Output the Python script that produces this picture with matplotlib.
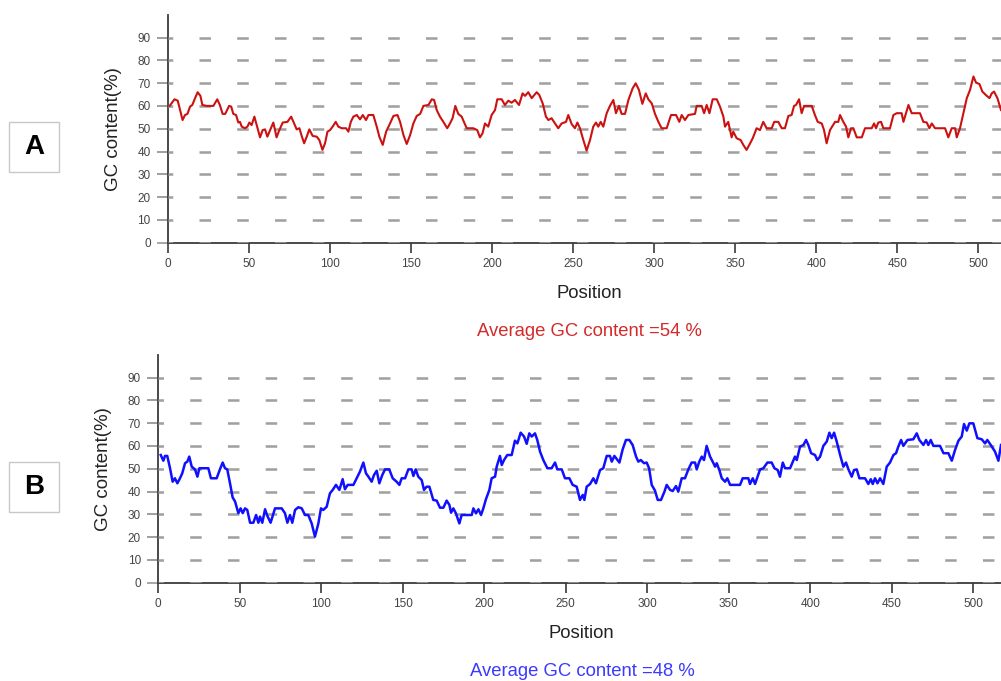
import matplotlib
matplotlib.use("Agg")
import matplotlib.pyplot as plt
from matplotlib.patches import Rectangle

plt.rcParams['font.family'] = ['Liberation Sans', 'DejaVu Sans']
plt.rcParams['lines.scale_dashes'] = False

# ---------------- data ----------------
pos_a = [1, 4, 6, 9, 10.5, 12, 13.6, 15, 16.7, 18.3, 20, 21.2, 24, 28, 30.4, 32, 33.7, 35.3, 37.7, 39,
         40.3, 42, 43.4, 44.4, 45.5, 47.5, 49, 50.2, 51.6, 53.3, 54.7, 56.8, 58.4, 59.9, 61.3, 63, 65, 67,
         68.7, 70.8, 73.7, 76, 77.4, 79.4, 81.1, 82.5, 84, 85.6, 87.2, 89.3, 91.8, 93.4, 95.3, 96.9, 98.4,
         100, 101.6, 103.5, 105.1, 107.2, 109.9, 111.3, 112.8, 114.4, 116.5, 118.5, 120.2, 122.2, 123.7,
         126.7, 128.8, 130.4, 132.5, 134.6, 137, 139.1, 141.6, 143.2, 145.3, 147.3, 149.4, 151.4, 153.5,
         155.6, 157.6, 160.7, 162.8, 164.2, 165.8, 167.8, 169.9, 172.3, 174, 175.6, 177.3, 179.1, 181.2,
         182.6, 184.3, 188.4, 190.8, 192.5, 194.1, 195.6, 197.6, 199.7, 201.8, 203.2, 205.9, 207.9, 210,
         212, 214.1, 216.6, 218.8, 220.3, 222.3, 224.4, 227.5, 229.1, 231.2, 233.2, 234.7, 236.7, 238.8,
         240.8, 242.9, 245.6, 247, 249.1, 251.1, 252.6, 254.2, 256.3, 258.3, 260.4, 262.4, 264.1, 265.5,
         267, 268.6, 270.7, 272.7, 274.8, 276.4, 278.3, 279.9, 282, 284.1, 286.7, 288.6, 290.6, 292.7,
         294.8, 296.4, 298.5, 300.5, 302.6, 304.6, 307.7, 310.4, 313.5, 315.5, 317, 319, 321.1, 325.2,
         326.2, 329.3, 330.8, 332.4, 334.1, 336.1, 338.6, 340.6, 342.7, 343.7, 345.7, 347.8, 348.8, 350.9,
         353.4, 355, 357, 358.7, 360.8, 363.2, 365.3, 367.3, 369.4, 372.5, 374.1, 376.6, 378.7, 380.7,
         382.8, 384.8, 386.3, 387.5, 389.4, 391, 392.5, 397.2, 399.2, 400.9, 403.4, 404.8, 406.4, 408.5,
         411.6, 413.6, 414.7, 416.7, 418.4, 419.8, 421.5, 422.9, 425, 428.1, 430.1, 434.2, 435.7, 436.9,
         438.3, 440, 441.4, 445.5, 447.6, 449.7, 452.7, 453.8, 455.4, 456.9, 458.9, 464, 466.1, 468.2,
         469.8, 471.3, 473.3, 479.5, 481.5, 483.6, 485.7, 486.7, 488.7, 490.8, 492.9, 494.9, 497, 498.6,
         500.7, 502.5, 504.6, 506.9, 508.3, 509.7, 511.8, 514]
gc_a = [60, 62.9, 62.3, 53.8, 56, 56.5, 59.7, 60.4, 63.4, 66, 64.4, 60.4, 60, 60, 62.9, 60.4, 56.5, 56.5, 60,
        59.7, 56.5, 56, 52.7, 53, 50.9, 50.2, 50.9, 52.7, 51.6, 55.3, 51.6, 46.2, 49.4, 49.7, 46.5, 49.4,
        52.7, 46.2, 49.4, 52.7, 53, 55.3, 53, 49.7, 50.2, 46.8, 43.6, 46.5, 49.7, 46.8, 46.5, 45, 40.7,
        43.6, 48.7, 49.4, 50.9, 53, 50.9, 50.2, 50.2, 48.7, 53, 55.3, 56, 54.1, 56, 53.8, 56, 56, 50.9,
        46.5, 42.9, 48.7, 52.3, 55.6, 56, 53, 47.2, 43.3, 47.2, 52.3, 55.6, 56.5, 60, 60.4, 62.9, 62.6,
        58.2, 55.3, 53, 50.2, 52.3, 54.6, 60, 56.5, 55.3, 53, 50.2, 50.2, 49.4, 46.2, 48, 52.3, 50.9, 56,
        58.2, 62.9, 62.9, 60.4, 62.3, 61.4, 62.6, 60.4, 65.5, 64.4, 66, 63.4, 66, 64.8, 61.1, 55.3, 53.8,
        54.6, 52.3, 50.2, 52.3, 53, 56, 52, 50.2, 52.7, 50.2, 45, 40.4, 45, 50.9, 52.7, 50.9, 53, 50.9,
        56.8, 60, 62.6, 56.8, 60, 56.5, 56.5, 62.6, 67.7, 69.9, 67, 60.9, 65.5, 62.9, 61.1, 56.5, 53,
        50.2, 50.2, 56, 56, 53, 56, 53.8, 56, 56.5, 60, 60, 56.8, 60.4, 56.8, 62.9, 62.9, 59.7, 55.3,
        50.9, 53, 46.2, 48.7, 45.8, 45, 42.9, 40.7, 42.9, 45.8, 50.2, 49.4, 53, 50.2, 50.2, 53, 53, 50.2,
        50.2, 55.6, 56, 60, 60.4, 62.9, 56.8, 60, 60, 56, 53, 52.3, 49.4, 43.6, 49.4, 53, 53, 56, 53,
        50.9, 46.2, 50.2, 50.2, 46.2, 46.2, 50.2, 50.2, 52.3, 50.2, 52.7, 53, 50.2, 50.2, 56, 56.8, 56.8,
        53, 56.8, 60.4, 56.8, 56.8, 53, 52.7, 50.2, 52.3, 50.2, 50.2, 46.2, 50.2, 50.2, 46.2, 50.2, 56.8,
        63.4, 67, 72.9, 70.2, 69.6, 66.3, 64.8, 63.4, 65.5, 66.3, 63.4, 58.2]

pos_b = [1.5, 3.1, 4.1, 5.5, 7.2, 8.8, 10.2, 11.7, 13.3, 14.7, 16.4, 17.8, 19, 20.5, 22.5, 24, 25.2, 30.7,
         32.3, 35.8, 37.8, 39.5, 40.9, 42.3, 44, 45.6, 47.1, 49.1, 50.5, 51.8, 53.2, 54.6, 56.3, 58.3, 60,
         61.4, 62.4, 63.8, 65.5, 66.9, 68.9, 71.6, 75.7, 77.7, 79.2, 80.8, 82.2, 83.9, 85.9, 88, 90, 92,
         94.1, 96.1, 98.2, 99.8, 101.2, 103.3, 105.3, 107, 109, 111.1, 113.1, 114.5, 116.2, 119.7, 121.7,
         123.7, 125.8, 127.4, 128.9, 130.9, 132.3, 134, 135.6, 137.4, 139.1, 141.7, 143.8, 146.2, 147.9,
         149.3, 151.4, 153.4, 155.4, 156.5, 157.9, 159.5, 161.6, 163, 164.6, 166.3, 168.7, 170.8, 172.8,
         174.9, 176.9, 178.6, 179.6, 181, 182.6, 184.7, 186.1, 188.2, 192.3, 193.3, 194.9, 196.4, 198,
         199.4, 201, 203.1, 204.5, 206.6, 207.6, 209.6, 210.7, 212.1, 214.1, 216.8, 218.8, 220.3, 222.3,
         224.4, 226, 227.6, 229.1, 231.1, 232.5, 234.2, 236.2, 238.7, 241.3, 243.4, 244.8, 247.5, 249.5,
         252.2, 254.2, 256.7, 258.7, 260.4, 261.4, 262.8, 264.9, 266.9, 268.5, 271, 273, 275.1, 277.1,
         278.2, 279.8, 282.9, 284.9, 286.9, 289, 291, 293.1, 294.5, 296, 298, 299.6, 301.1, 302.7, 304.7,
         306.4, 308.4, 310.5, 311.9, 314, 315.6, 317.6, 319, 321.1, 323.1, 325.2, 327.2, 329.3, 330.3,
         331.9, 333.4, 334.8, 336.4, 338.5, 340.1, 341.6, 342.6, 344.2, 345.7, 347.7, 349.1, 350.8, 356.9,
         358.5, 362, 363, 364.7, 366.1, 369.2, 371.2, 373.7, 376.3, 378, 380, 381.4, 383.1, 384.5, 387.6,
         390.6, 391.7, 393.7, 395.8, 397.4, 398.8, 400.5, 402.9, 404.3, 406, 408, 410.1, 411.7, 413.1,
         414.6, 416.2, 418.3, 420.3, 421.9, 423.4, 425.4, 426.8, 428.5, 430.1, 433.6, 435.6, 437.1, 438.3,
         439.7, 441.2, 442.8, 444.8, 446.9, 448.9, 451, 452.6, 454, 455.7, 457.1, 459.6, 463.2, 465.3,
         466.9, 469.4, 471, 472.4, 473.9, 475.5, 479.6, 481.7, 484.7, 486.8, 488.8, 490.9, 492.9, 494.3,
         496, 497.6, 500, 502.5, 505.2, 507.2, 508.6, 510.7, 513.3, 515.4, 517]
gc_b = [56, 53.5, 55.6, 55.6, 50.2, 44.3, 45.8, 43.6, 45.8, 48, 52.4, 53.1, 55.3, 50.9, 49.7, 46.5, 50.2,
        50.2, 45.8, 45.8, 49.7, 52.7, 50.2, 49.7, 43.6, 37.4, 35.6, 30.5, 32.6, 30.5, 32.6, 31.9, 26.3,
        26.3, 29.7, 26.3, 29, 26.3, 32.2, 29.3, 26.3, 32.6, 32.6, 30.5, 26.3, 29.7, 26.3, 31.9, 33.1, 32.6,
        29.7, 29.7, 26, 20.2, 26, 32.6, 31.9, 33.3, 39.2, 40.7, 42.9, 40.7, 45.4, 41, 42.9, 42.9, 45.8,
        48.7, 52.7, 48, 46.5, 44.3, 47.2, 49.1, 43.6, 47.2, 49.7, 49.7, 45.8, 44.3, 42.9, 45.8, 45.8, 49.7,
        49.7, 46.8, 49.7, 46.5, 45, 40.7, 42.1, 42.1, 36.3, 36, 32.9, 32.9, 36, 34.1, 30.7, 32.6, 30.4, 26,
        29.7, 29.7, 29.7, 32.6, 30.4, 32.2, 29.7, 32.6, 36.6, 40.7, 45.8, 46.5, 50.9, 55.6, 51.6, 53.8, 56,
        56, 62.3, 61.1, 65.8, 64.1, 60.9, 65.5, 64.1, 65.5, 62.6, 57.5, 53.8, 50.2, 50.2, 52.7, 49.7, 49.7,
        45.8, 45.8, 42.9, 42.1, 36.3, 38.5, 36.3, 42.1, 43.3, 45.8, 43.6, 49.4, 50.2, 55.6, 55.6, 53.1,
        55.6, 52.7, 58.5, 62.6, 62.6, 60.4, 55.3, 53.1, 53.8, 52.4, 52.7, 50.2, 42.9, 40.4, 36.3, 36.3,
        39.9, 42.9, 40.7, 40.2, 42.4, 39.9, 45.8, 45.8, 49.7, 52.7, 52.7, 49.7, 53.1, 55.3, 53.8, 60,
        55.3, 53.1, 50.9, 52.4, 49.4, 45.8, 44.3, 45.8, 42.9, 42.9, 45.8, 45.8, 43.3, 45.8, 43.3, 49.7,
        50.2, 52.7, 52.7, 50.2, 49.4, 46.5, 52.7, 50.2, 50.2, 55.3, 53.8, 59.7, 60.4, 62.6, 60.4, 56.8,
        56, 53.8, 55.3, 60, 61.9, 65.8, 63.4, 65.8, 61.9, 56, 50.9, 52.7, 49.7, 46.5, 49.4, 49.7, 45.8,
        45.8, 43.3, 45.4, 43.3, 45.8, 43.6, 45.8, 43.3, 50.9, 52.7, 56, 56.8, 59.7, 62.6, 60, 62.6, 62.9,
        65.5, 62.6, 60.4, 62.6, 60.4, 62.6, 60, 60, 56.8, 56.8, 53.5, 58.2, 62.3, 64.1, 69.6, 66.7, 69.9,
        69.9, 63.4, 62.9, 61.1, 62.6, 60.4, 57.5, 53.5, 60.4]

y_ticks = [0, 10, 20, 30, 40, 50, 60, 70, 80, 90]
x_ticks = [0, 50, 100, 150, 200, 250, 300, 350, 400, 450, 500]

# ---------------- figure ----------------
W, H = 1001, 681
PX = 72.0 / 100.0   # points per pixel
fig = plt.figure(figsize=(W / 100, H / 100), dpi=100)


def panel(x0, y0, xmax, pos, gc, color, lw, letter, box_y, ylab_x, pos_xy, avg_text, avg_xy, avg_color, dash_start):
    ax = fig.add_axes([x0 / W, 1 - y0 / H, (W - x0) / W, 228 / H])
    ax.set_xlim(0, xmax)
    ax.set_ylim(0, 100)
    for s in ('top', 'right'):
        ax.spines[s].set_visible(False)
    for s in ('left', 'bottom'):
        ax.spines[s].set_color('#3a3a3a')
        ax.spines[s].set_linewidth(1.3)
    # dashed gray grid
    period = 37.75
    on = 11.5
    off = period - on
    offset = (period - dash_start) * PX
    for y in y_ticks:
        ax.axhline(y, color='#a0a0a0', lw=2.0 * PX * 1.0 + 0.4,
                   ls=(offset, (on * PX, off * PX)), zorder=3)
    ax.plot(pos, gc, color=color, lw=lw, zorder=4, solid_joinstyle='round')
    ax.set_yticks(y_ticks)
    ax.set_xticks(x_ticks)
    ax.tick_params(axis='y', length=11 * PX, width=2.0 * PX, color='#a0a0a0',
                   labelcolor='#444444', labelsize=8.5, pad=4.5)
    ax.tick_params(axis='x', length=10 * PX, width=1.2, color='#3a3a3a',
                   labelcolor='#444444', labelsize=8.5, pad=3.5)
    t0 = ax.yaxis.get_major_ticks()[0]
    t0.tick1line.set_color('#3a3a3a')
    t0.tick1line.set_markeredgewidth(1.3)

    fig.text(ylab_x / W, 1 - (y0 - 114) / H, 'GC content(%)', rotation=90,
             ha='center', va='center', fontsize=13.5, color='#222222')
    fig.text(pos_xy[0] / W, 1 - pos_xy[1] / H, 'Position', ha='center', va='center',
             fontsize=13.3, color='#222222')
    fig.text(avg_xy[0] / W, 1 - avg_xy[1] / H, avg_text, ha='center', va='center',
             fontsize=13.3, color=avg_color)
    fig.patches.append(Rectangle((9 / W, 1 - (box_y + 50) / H), 50 / W, 50 / H,
                                 transform=fig.transFigure, fill=False,
                                 edgecolor='#c8c8c8', lw=1.0))
    fig.text(34 / W, 1 - (box_y + 25) / H, letter, ha='center', va='center',
             fontsize=20, fontweight='bold', color='#000000')
    return ax


panel(168, 242.7, (W - 168) / 1.6206, pos_a, gc_a, '#cc1111', 1.5, 'A', 122,
      113, (589.5, 293), 'Average GC content =54 %', (589, 331), '#d42a2a', 31)
panel(158.3, 582.7, (W - 158.3) / 1.63, pos_b, gc_b, '#1010ff', 1.8, 'B', 461.5,
      104, (581.7, 633), 'Average GC content =48 %', (582, 671), '#3a3aff', 31.7)

fig.savefig('out.png', dpi=100)
